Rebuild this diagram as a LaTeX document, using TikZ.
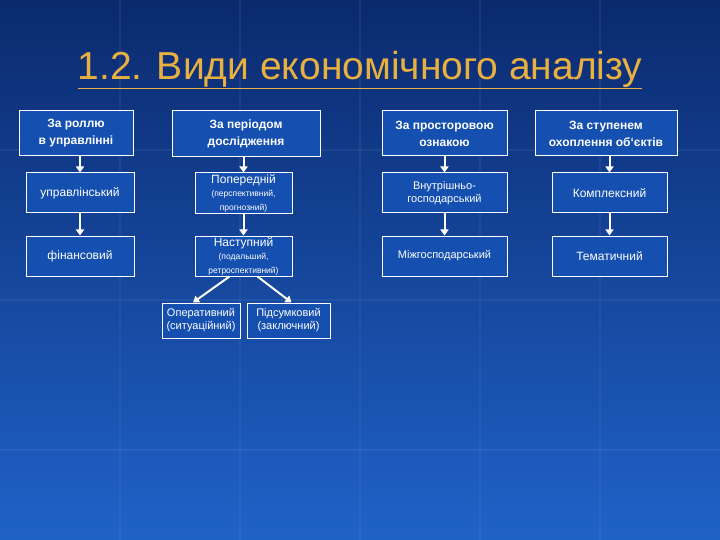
\documentclass[tikz,border=0pt]{standalone}
\usepackage{fontspec}
\setmainfont{Liberation Sans}
\usetikzlibrary{arrows.meta}
\definecolor{bgtop}{HTML}{0B2A6E}
\definecolor{bgbot}{HTML}{1F62C8}
\definecolor{boxfill}{HTML}{1550B0}
\definecolor{titlec}{HTML}{E8B040}
\tikzset{
 bx/.style={draw=white,line width=1pt,fill=boxfill,text=white,align=center,inner sep=1pt,font=\fontsize{12}{14}\selectfont},
 hd/.style={bx,font=\bfseries\fontsize{12}{17}\selectfont},
 ar/.style={white,line width=2pt,-{Triangle[width=8pt,length=6pt]}}
}
\begin{document}
\begin{tikzpicture}[x=1pt,y=-1pt]
\useasboundingbox (0,0) rectangle (720,540);
\shade[top color=bgtop,bottom color=bgbot] (0,0) rectangle (720,540);
\foreach \yy in {150,300,450} \draw[white,opacity=0.06,line width=2pt] (0,\yy)--(720,\yy);
\foreach \xx in {120,240,360,480,600} \draw[white,opacity=0.05,line width=2pt] (\xx,0)--(\xx,540);
\node (t) [text=titlec,font=\fontsize{39}{44}\selectfont] at (360,70) {\underline{1.2. Види економічного аналізу}};
% column 1
\node[hd,minimum width=114,minimum height=45] (h1) at (76,133.5) {За роллю\\в управлінні};
\node[bx,minimum width=108,minimum height=40] (a1) at (80,193) {управлінський};
\node[bx,minimum width=108,minimum height=40] (a2) at (80,256) {фінансовий};
% column 2
\node[hd,minimum width=148,minimum height=46] (h2) at (246,134) {За періодом\\дослідження};
\node[bx,minimum width=97,minimum height=41] (b1) at (243.5,193.5) {Попередній\\[-1pt]{\fontsize{8.5}{10}\selectfont(перспективний,}\\{\fontsize{8.5}{10}\selectfont прогнозний)}};
\node[bx,minimum width=97,minimum height=40] (b2) at (243.5,256) {Наступний\\[-1pt]{\fontsize{8.5}{10}\selectfont(подальший,}\\{\fontsize{8.5}{10}\selectfont ретроспективний)}};
\node[bx,minimum width=78,minimum height=35,font=\fontsize{11}{13}\selectfont] (c1) at (201,320.5) {Оперативний\\(ситуаційний)};
\node[bx,minimum width=83,minimum height=35,font=\fontsize{11}{13}\selectfont] (c2) at (288.5,320.5) {Підсумковий\\(заключний)};
% column 3
\node[hd,minimum width=125,minimum height=45] (h3) at (444.5,133.5) {За просторовою\\ознакою};
\node[bx,minimum width=125,minimum height=40,font=\fontsize{11}{13}\selectfont] (d1) at (444.5,193) {Внутрішньо-\\господарський};
\node[bx,minimum width=125,minimum height=40,font=\fontsize{11}{13}\selectfont] (d2) at (444.5,256) {Міжгосподарський};
% column 4
\node[hd,minimum width=142,minimum height=45] (h4) at (606,133.5) {За ступенем\\охоплення об`єктів};
\node[bx,minimum width=115,minimum height=40] (e1) at (609.5,193) {Комплексний};
\node[bx,minimum width=115,minimum height=40] (e2) at (609.5,256) {Тематичний};
% arrows
\draw[ar] (h1.south -| a1.north) -- (a1.north);
\draw[ar] (a1) -- (a2);
\draw[ar] (h2.south -| b1.north) -- (b1.north);
\draw[ar] (b1) -- (b2);
\draw[ar] ([xshift=-14pt]b2.south) -- ([xshift=-8pt]c1.north);
\draw[ar] ([xshift=14pt]b2.south) -- ([xshift=3pt]c2.north);
\draw[ar] (h3) -- (d1);
\draw[ar] (d1) -- (d2);
\draw[ar] (h4.south -| e1.north) -- (e1.north);
\draw[ar] (e1) -- (e2);
\end{tikzpicture}
\end{document}
